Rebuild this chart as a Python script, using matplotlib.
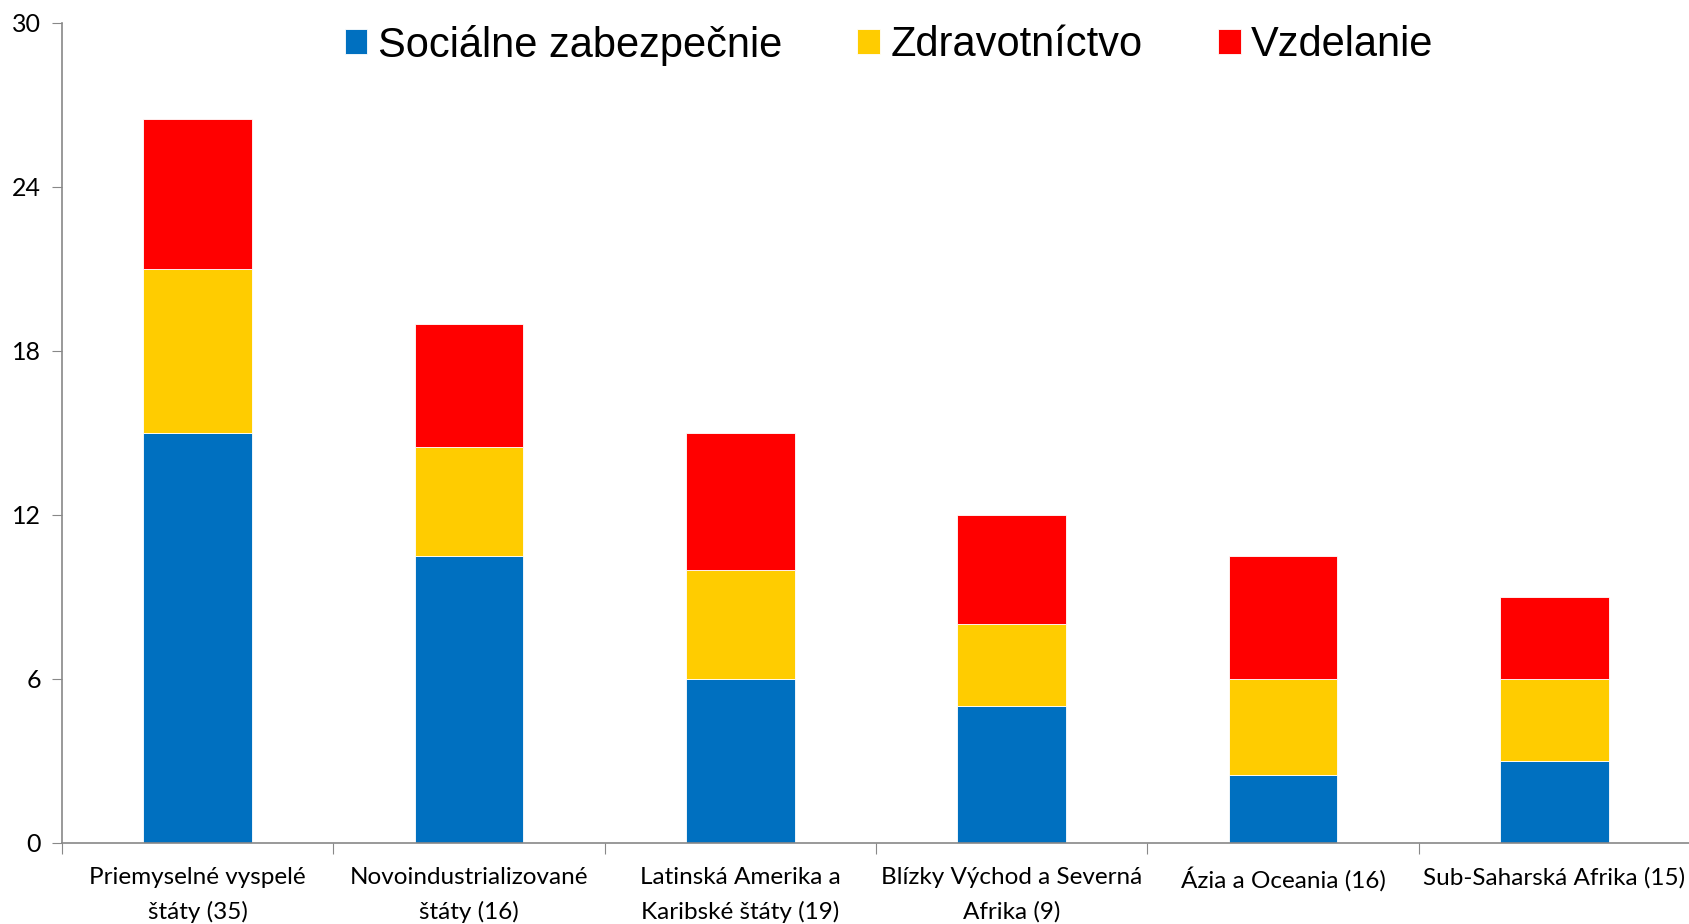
import matplotlib.pyplot as plt
import numpy as np

categories = ["Priemyselné vyspelé\nštáty (35)", "Novoindustrializované\nštáty (16)",
              "Latinská Amerika a\nKaribské štáty (19)", "Blízky Východ a Severná\nAfrika (9)",
              "Ázia a Oceania (16)", "Sub-Saharská Afrika (15)"]
socialne = [15.0, 10.5, 6.0, 5.0, 2.5, 3.0]
zdravotnictvo = [6.0, 4.0, 4.0, 3.0, 3.5, 3.0]
vzdelanie = [5.5, 4.5, 5.0, 4.0, 4.5, 3.0]

series = [("Sociálne zabezpečnie", socialne, "#0070C0"),
          ("Zdravotníctvo", zdravotnictvo, "#FFCC00"),
          ("Vzdelanie", vzdelanie, "#FF0000")]

fig = plt.figure(figsize=(16.9, 9.24), dpi=100)
ax = fig.add_axes([62 / 1690, 1 - 843 / 924, 1 - 62 / 1690, (843 - 23) / 924])

x = np.arange(len(categories))
bottom = np.zeros(len(categories))
handles = []
for name, vals, col in series:
    b = ax.bar(x, vals, width=0.4, bottom=bottom, color=col, label=name,
               edgecolor="white", linewidth=0.6)
    handles.append(b)
    bottom += np.array(vals)

ax.set_xlim(-0.5, 5.5)
ax.set_ylim(0, 30)
ax.set_yticks(range(0, 31, 6))
ax.tick_params(axis="y", length=7, color="#888888", labelsize=18, pad=8)
for lab in ax.get_yticklabels():
    lab.set_family("Lato")

ax.set_xticks(np.arange(-0.5, 6, 1))
ax.set_xticklabels([])
ax.tick_params(axis="x", which="major", length=8, color="#888888")
ax.set_xticks(x, minor=True)
ax.set_xticklabels(categories, minor=True, fontsize=17.5, family="Lato", linespacing=1.75)
ax.tick_params(axis="x", which="minor", length=0, pad=17)

for s in ["top", "right"]:
    ax.spines[s].set_visible(False)
for s in ["left", "bottom"]:
    ax.spines[s].set_color("#888888")
    ax.spines[s].set_linewidth(1.2)

leg = fig.legend(handles=handles, loc="center", bbox_to_anchor=(0.526, 1 - 45 / 924), ncol=3,
                 frameon=False, prop={"family": "Liberation Sans", "size": 30},
                 handlelength=0.55, handleheight=0.55, handletextpad=0.25, columnspacing=1.8)

fig.savefig("out.png", dpi=100)
